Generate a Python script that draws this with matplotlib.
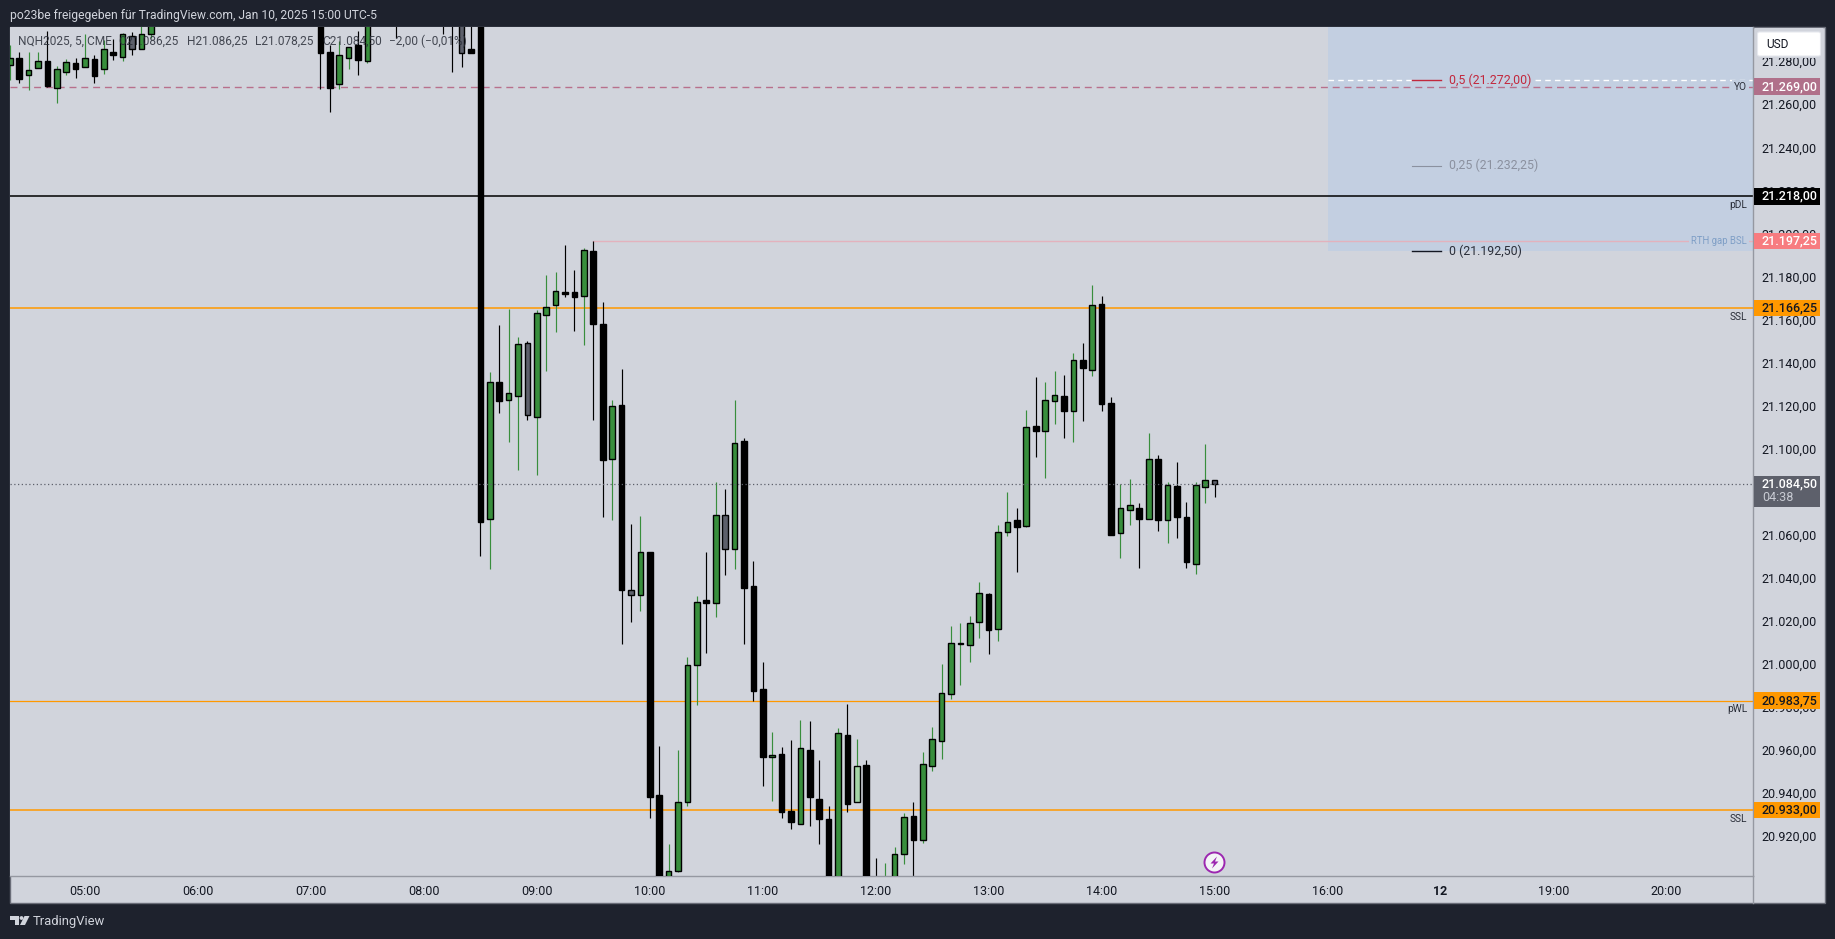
# -*- coding: utf-8 -*-
import matplotlib
matplotlib.use('Agg')
import matplotlib.pyplot as plt
from matplotlib.patches import Rectangle, Circle, Polygon, FancyBboxPatch
from matplotlib.transforms import blended_transform_factory, ScaledTranslation

plt.rcParams['font.family'] = ['Roboto', 'DejaVu Sans']

# bar number, 0 is the 05:00 bar, 12 bars per hour. bars above the chart top are left out
bar_pos = [-8, -7, -6, -5, -4, -3, -2, -1, 0, 1, 2, 3, 4, 5, 6, 7,
           25, 26, 27, 28, 29, 30, 33, 38, 39, 40, 41,
           42, 43, 44, 45, 46, 47, 48, 49, 50, 51, 52, 53, 54, 55, 56, 57, 58, 59,
           60, 61, 62, 63, 64, 65, 66, 67, 68, 69, 70, 71, 72, 73, 74, 75, 76, 77, 78, 79,
           80, 81, 82, 83, 84, 85, 86, 87, 88, 89, 90, 91, 92, 93, 94, 95, 96, 97, 98, 99,
           100, 101, 102, 103, 104, 105, 106, 107, 108, 109, 110, 111, 112, 113, 114, 115,
           116, 117, 118, 119, 120]
opens = [21279.25, 21282.5, 21274.25, 21277.5, 21281, 21268.5, 21276, 21279.75, 21278, 21282, 21277, 21285, 21282.75, 21292.75, 21286.5, 21293.5,
         21305, 21285, 21270, 21282.5, 21288.25, 21281, 21312, 21312, 21312, 21310, 21286.25,
         21305, 21068, 21131.75, 21123.25, 21125.25, 21149.75, 21115.5, 21162.75, 21167.5, 21173.5, 21173.5, 21171.75, 21192.5, 21158.75, 21096, 21121, 21035, 21032.75,
         21053, 20939.75, 20895, 20904.75, 20936.75, 21000.25, 21030.5, 21029.25, 21070, 21054.25, 21104.5, 21037, 20989.25, 20957.5, 20959, 20932.75, 20926.5, 20961, 20938.25, 20929,
         20893, 20968, 20936.75, 20954, 20900, 20885, 20895, 20912.5, 20930, 20919, 20953.25, 20965.25, 20987, 21010.25, 21009.75, 21020.25, 21033.5, 21017.25, 21062.25, 21067.5,
         21065, 21111.25, 21109.25, 21122.75, 21125.5, 21118.5, 21142, 21137.5, 21168.25, 21122, 21061.5, 21072.5, 21073.5, 21068, 21096, 21067.5,
         21083.5, 21069, 21047.5, 21083.25, 21086.25]
highs = [21288.5, 21285, 21285, 21285, 21294.75, 21278.5, 21282, 21282.5, 21293.25, 21283.5, 21290.5, 21291.25, 21294, 21294.5, 21300, 21310,
         21310, 21288.25, 21290, 21287.5, 21294.75, 21308, 21315, 21315, 21315, 21314, 21310,
         21315, 21136.25, 21158.25, 21165.75, 21152.75, 21150.75, 21165.25, 21181.5, 21182.75, 21195.5, 21183.75, 21194, 21197.25, 21168.75, 21123.5, 21137.75, 21066, 21069.5,
         21053, 20962.75, 20917.25, 20961, 21004, 21032.5, 21053, 21085.5, 21082, 21123.5, 21105.75, 21048.75, 21001.75, 20969.25, 20962.5, 20965.5, 20975, 20974.5, 20956.25, 20935,
         20971, 20982.25, 20966, 20956, 20910.5, 20908.5, 20916, 20931.75, 20936.75, 20960, 20971.75, 21001, 21018.5, 21020, 21023.25, 21039, 21034, 21065.5, 21080.75, 21073.25,
         21118.75, 21134, 21131.75, 21137, 21135, 21145.25, 21150, 21176.75, 21171.75, 21124.75, 21084.25, 21086.75, 21075.5, 21108, 21098, 21085.5,
         21094.75, 21076, 21085.5, 21103, 21086.25]
lows = [21272, 21270.75, 21267.25, 21277.5, 21269, 21261.5, 21274.5, 21273, 21278, 21270.75, 21274.75, 21281.25, 21280.75, 21283.5, 21286.5, 21291.5,
        21268, 21257.25, 21268, 21277, 21274.5, 21280, 21291.75, 21293.25, 21275.75, 21278, 21284.5,
        21051, 21045, 21117.5, 21104, 21091, 21114.25, 21088.5, 21137, 21155, 21171.25, 21155.5, 21149, 21114.25, 21069.25, 21067.75, 21010.25, 21020.5, 21025.25,
        20929.5, 20890, 20890, 20904, 20935, 20982, 21005.75, 21022.5, 21042.25, 21045, 21010.25, 20983.5, 20944, 20937, 20929.5, 20924, 20926.5, 20925.5, 20917, 20885,
        20888, 20932.25, 20936.75, 20880, 20880, 20880, 20890, 20908, 20900, 20917.75, 20951.25, 20956.75, 20984.75, 20991.25, 21001.75, 21013, 21005.5, 21011.5, 21060.5, 21043.5,
        21064.25, 21097, 21087.25, 21112.25, 21105.75, 21104, 21113.75, 21134.5, 21118.25, 21060.75, 21050, 21065.5, 21045.5, 21068, 21062.5, 21057,
        21059.5, 21045.5, 21042.75, 21075.5, 21078.25]
closes = [21282.5, 21272.5, 21276.5, 21281, 21269.25, 21277, 21280.25, 21277.25, 21282.5, 21274, 21286.25, 21283.75, 21293.5, 21286.5, 21293.25, 21305,
          21284.5, 21268.5, 21283.5, 21287.5, 21281.5, 21303, 21305, 21305, 21303, 21284.5, 21284.5,
          21067, 21132, 21123, 21126.5, 21149.25, 21116.25, 21163.75, 21166.5, 21174, 21172.75, 21171.5, 21193, 21158.75, 21095.75, 21120.5, 21035, 21032.75, 21052.75,
          20939.25, 20895, 20904.75, 20936.75, 21000.25, 21029.5, 21029.25, 21070, 21054.25, 21103.25, 21036.25, 20988.5, 20957.5, 20958.5, 20932, 20927.25, 20961.75, 20939.25, 20928.75, 20892,
          20968.75, 20936, 20953.5, 20890, 20890, 20899, 20912.5, 20929.75, 20919, 20954.25, 20966, 20987.25, 21010.5, 21010.75, 21019.75, 21033.75, 21016.75, 21062, 21066.75, 21064.5,
          21110.75, 21109.25, 21123.25, 21126, 21118.5, 21142, 21138.5, 21167.5, 21121.75, 21060.75, 21073.25, 21074.5, 21068, 21096, 21067.5, 21083.75,
          21069.25, 21048, 21083.75, 21086.5, 21084.5]
grey_bars = [5, 40, 47, 58, 68, 120]
pale_bars = [82]

# 21.080,00 sits fully under the last price tag in the reference, so it is not listed
price_ticks = [21280, 21260, 21240, 21220, 21200, 21180, 21160, 21140, 21120, 21100, 21060,
               21040, 21020, 21000, 20980, 20960, 20940, 20920]
time_pos = [0, 12, 24, 36, 48, 60, 72, 84, 96, 108, 120, 132, 144, 156, 168]
time_labels = ['05:00', '06:00', '07:00', '08:00', '09:00', '10:00', '11:00', '12:00', '13:00', '14:00',
               '15:00', '16:00', '12', '19:00', '20:00']

yo_level = 21269.0
pdl_level = 21218.0
rth_level = 21197.25
ssl_high = 21166.25
last_price = 21084.5
pwl_level = 20983.75
ssl_low = 20933.0
fib_0 = 21192.5
fib_25 = 21232.25
fib_50 = 21272.0
fib_100 = 21351.5

DARK = '#1e222d'
PANEL = '#d1d4dc'
GREEN = '#388e3c'
ORANGE = '#ff9800'
GREY = '#5d606b'

W, H = 1835, 939
fig = plt.figure(figsize=(W / 100, H / 100), dpi=100, facecolor=DARK)


def euro(v):
    # 21218.0 -> 21.218,00
    return '{:,.2f}'.format(v).replace(',', ' ').replace('.', ',').replace(' ', '.')


# up or down from open/close, then the special colours
kinds = []
for b, o, c in zip(bar_pos, opens, closes):
    if b in grey_bars:
        kinds.append('n')
    elif b in pale_bars:
        kinds.append('l')
    else:
        kinds.append('u' if c > o else 'd')

# backdrop, pixel coordinates
back = fig.add_axes([0, 0, 1, 1], zorder=0)
back.set_xlim(0, W)
back.set_ylim(H, 0)
back.axis('off')
back.add_patch(Rectangle((10, 27), 1815, 876, facecolor=PANEL, edgecolor='#6a6d78', linewidth=1))
back.plot([1753, 1753], [876, 903], color='#9598a1', lw=1)

# chart, x is bar number, y is price
x0, x1, y0, y1 = 10, 1753, 27, 876
ax = fig.add_axes([x0 / W, 1 - y1 / H, (x1 - x0) / W, (y1 - y0) / H], zorder=1)
ax.set_facecolor(PANEL)
ax.set_xlim(-7.97, 177.2)
ax.set_ylim(20902.35, 21296.7)
for s in ['top', 'left']:
    ax.spines[s].set_visible(False)
for s in ['right', 'bottom']:
    ax.spines[s].set_color('#9598a1')
    ax.spines[s].set_linewidth(1)
ax.yaxis.tick_right()
ax.set_yticks(price_ticks)
ax.set_yticklabels([euro(p) for p in price_ticks], fontsize=9, color='#131722')
ax.set_xticks(time_pos)
ax.set_xticklabels(time_labels, fontsize=9, color='#131722')
ax.get_xticklabels()[12].set_fontweight('bold')
ax.tick_params(axis='y', length=0, pad=5.8)
ax.tick_params(axis='x', length=0, pad=6.3)
# price labels sit a bit above their level
lift = ScaledTranslation(0, 1.8 / 100, fig.dpi_scale_trans)
for lab in ax.get_yticklabels():
    lab.set_transform(lab.get_transform() + lift)

# fib box
ax.add_patch(Rectangle((132.1, fib_0), 60, fib_100 - fib_0, facecolor='#c3cfe1', edgecolor='none', zorder=0.5))
ax.plot([132.1, 141], [fib_50, fib_50], color='white', lw=1, ls=(0, (4, 3)), zorder=1)
ax.plot([154, 178], [fib_50, fib_50], color='white', lw=1, ls=(0, (4, 3)), zorder=1)
ax.plot([141, 144.1], [fib_50, fib_50], color='#c2283d', lw=1, zorder=1.5)
ax.plot([141, 144.1], [fib_25, fib_25], color='#8b919f', lw=0.8, zorder=1.5)
ax.plot([141, 144.1], [fib_0, fib_0], color='#131722', lw=1, zorder=1.5)
ax.text(144.9, fib_50, '0,5 (' + euro(fib_50) + ')', color='#c2283d', fontsize=8.9, va='center')
ax.text(144.9, fib_25, '0,25 (' + euro(fib_25) + ')', color='#8b919f', fontsize=8.9, va='center')
ax.text(144.9, fib_0, '0 (' + euro(fib_0) + ')', color='#2a2e39', fontsize=8.9, va='center')

# levels
ax.axhline(yo_level, color='#b8708c', lw=1, ls=(0, (5, 3.5)), zorder=1)
ax.axhline(pdl_level, color='#000000', lw=1.1, zorder=1)
ax.plot([54, 178], [rth_level, rth_level], color='#e3b2bd', lw=1, zorder=1)
ax.axhline(ssl_high, color=ORANGE, lw=1.1, zorder=1)
ax.axhline(pwl_level, color=ORANGE, lw=0.9, zorder=1)
ax.axhline(ssl_low, color=ORANGE, lw=1.1, zorder=1)
ax.axhline(last_price, color=GREY, lw=0.9, ls=(0, (1, 2)), zorder=4)

# candles
wick_col = {'u': GREEN, 'd': 'black', 'n': 'black', 'l': GREEN}
body_col = {'u': GREEN, 'd': 'black', 'n': GREY, 'l': '#a5d6a7'}
ax.vlines(bar_pos, lows, highs, colors=[wick_col[k] for k in kinds], lw=0.85, zorder=2)
bottoms = [min(o, c) for o, c in zip(opens, closes)]
heights = [abs(c - o) for o, c in zip(opens, closes)]
ax.bar(bar_pos, heights, bottom=bottoms, width=0.6, color=[body_col[k] for k in kinds],
       edgecolor='black', linewidth=1.0, zorder=3)


# small labels on the right, hung off the level lines
def level_label(price, text, drop=0, color='#2a2e39', backed=False, size=7.3):
    box = dict(facecolor='#c3cfe1', edgecolor='none', pad=1.5) if backed else None
    ax.annotate(text, xy=(1, price), xycoords=('axes fraction', 'data'), xytext=(-6, -drop),
                textcoords='offset pixels', ha='right', va='center', fontsize=size, color=color,
                bbox=box, zorder=4)


level_label(yo_level, 'YO', backed=True)
level_label(pdl_level, 'pDL', drop=8.5)
level_label(rth_level, 'RTH gap BSL', color='#7f9fc6', backed=True, size=6.9)
level_label(ssl_high, 'SSL', drop=8.8)
level_label(pwl_level, 'pWL', drop=8.7)
level_label(ssl_low, 'SSL', drop=8.6)

# price tags over the scale
tag_tr = blended_transform_factory(ax.transAxes, ax.transData)


def price_tag(price, bg, fg):
    ax.add_patch(Rectangle((1.0006, price - 3.85), 0.0378, 7.7, transform=tag_tr, facecolor=bg,
                           edgecolor='none', clip_on=False, zorder=5))
    ax.text(1.0051, price, euro(price), transform=tag_tr, color=fg, fontsize=9, va='center',
            fontweight='medium', clip_on=False, zorder=6)


price_tag(yo_level, '#b0708a', 'white')
price_tag(pdl_level, '#000000', 'white')
price_tag(rth_level, '#f77c80', 'white')
price_tag(ssl_high, ORANGE, '#131722')
price_tag(pwl_level, ORANGE, '#131722')
price_tag(ssl_low, ORANGE, '#131722')
# last price tag has the countdown under it
ax.add_patch(Rectangle((1.0006, last_price - 10.65), 0.0378, 14.25, transform=tag_tr, facecolor=GREY,
                       edgecolor='none', clip_on=False, zorder=5))
ax.text(1.0051, last_price, euro(last_price), transform=tag_tr, color='white', fontsize=9, va='center',
        fontweight='medium', clip_on=False, zorder=6)
ax.text(1.0051, last_price - 6.5, '04:38', transform=tag_tr, color='#c8cbd3', fontsize=9, va='center',
        clip_on=False, zorder=6)

# everything else on top, pixel coordinates again
top = fig.add_axes([0, 0, 1, 1], zorder=10)
top.set_xlim(0, W)
top.set_ylim(H, 0)
top.axis('off')
top.patch.set_visible(False)
top.text(10, 15, 'po23be freigegeben für TradingView.com, Jan 10, 2025 15:00 UTC-5', color=PANEL,
         fontsize=8.75, va='center')
for px, s in [(18, 'NQH2025, 5, CME'), (118.5, 'O21.086,25'), (186.5, 'H21.086,25'), (254.5, 'L21.078,25'),
              (322.5, 'C21.084,50'), (388.5, '−2,00 (−0,01%)')]:
    top.text(px, 41.5, s, color='#2a2e39', fontsize=8.6, va='center', alpha=0.85)

# USD button, the panel strip under it cuts the top of 21.280,00
top.add_patch(Rectangle((1755, 28), 68, 30, facecolor=PANEL, edgecolor='none'))
top.add_patch(FancyBboxPatch((1759, 33.5), 60, 21, boxstyle='round,pad=1.5,rounding_size=2',
                             facecolor='white', edgecolor='#e6e8ee', linewidth=0.8))
top.text(1766, 44.3, 'USD', color='#131722', fontsize=8.6, va='center')

# lightning icon
top.add_patch(Circle((1214.5, 862.5), 10, facecolor='#f4f4f7', edgecolor='#9c27b0', linewidth=1.4))
top.add_patch(Polygon([(1217, 856.5), (1210.5, 863.5), (1214, 863.5), (1212, 868.5), (1218.5, 861.5), (1215, 861.5)],
                      closed=True, facecolor='#9c27b0', edgecolor='none'))

# TradingView logo and name
top.add_patch(Polygon([(10, 916), (19, 916), (19, 925), (15, 925), (15, 920), (10, 920)], closed=True,
                      facecolor=PANEL, edgecolor='none'))
top.add_patch(Circle((21.5, 918), 1.9, facecolor=PANEL, edgecolor='none'))
top.add_patch(Polygon([(24.5, 916), (29.5, 916), (25, 925), (20, 925)], closed=True, facecolor=PANEL,
                      edgecolor='none'))
top.text(33, 921, 'TradingView', color=PANEL, fontsize=9.4, va='center')

fig.savefig('out.png', dpi=100, facecolor=DARK)
